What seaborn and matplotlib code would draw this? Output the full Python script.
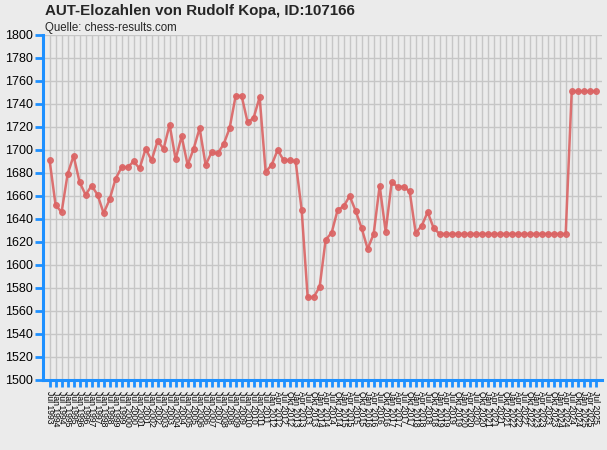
import matplotlib
matplotlib.use("Agg")
import matplotlib.pyplot as plt
import seaborn as sns
import pandas as pd

# ---- data ----
dates = [
    "Jul 1993", "Jan 1994", "Jul 1994", "Jan 1995", "Jul 1995", "Jan 1996", "Jul 1996",
    "Jan 1997", "Jul 1997", "Jan 1998", "Jul 1998", "Jan 1999", "Jul 1999", "Jan 2000",
    "Jul 2000", "Jan 2001", "Jul 2001", "Jan 2002", "Jul 2002", "Jan 2003", "Jul 2003",
    "Jan 2004", "Jul 2004", "Jan 2005", "Jul 2005", "Jan 2006", "Jul 2006", "Jan 2007",
    "Jul 2007", "Jan 2008", "Jul 2008", "Jan 2009", "Jul 2009", "Jan 2010", "Jul 2010",
    "Jan 2011", "Jul 2011", "Jan 2012",
    "Apr 2012", "Jul 2012", "Okt 2012",
    "Jan 2013", "Apr 2013", "Jul 2013", "Okt 2013",
    "Jan 2014", "Apr 2014", "Jul 2014", "Okt 2014",
    "Jan 2015", "Apr 2015", "Jul 2015", "Okt 2015",
    "Jan 2016", "Apr 2016", "Jul 2016", "Okt 2016",
    "Jan 2017", "Apr 2017", "Jul 2017", "Okt 2017",
    "Jan 2018", "Apr 2018", "Jul 2018", "Okt 2018",
    "Jan 2019", "Apr 2019", "Jul 2019", "Okt 2019",
    "Jan 2020", "Apr 2020", "Jul 2020", "Okt 2020",
    "Jan 2021", "Apr 2021", "Jul 2021", "Okt 2021",
    "Jan 2022", "Apr 2022", "Jul 2022", "Okt 2022",
    "Jan 2023", "Apr 2023", "Jul 2023", "Okt 2023",
    "Jan 2024", "Apr 2024", "Jul 2024", "Okt 2024",
    "Jan 2025", "Apr 2025", "Jul 2025",
]
elo = [
    1691, 1652, 1646, 1679, 1695, 1672, 1661, 1669, 1661, 1645, 1657, 1675, 1685, 1685,
    1690, 1684, 1701, 1691, 1708, 1701, 1722, 1692, 1712, 1687, 1701, 1719, 1687, 1698,
    1697, 1705, 1719, 1747,
    1747, 1724, 1728, 1746, 1681, 1687, 1700, 1691, 1691, 1690, 1648, 1572, 1572, 1581,
    1622, 1628, 1648, 1651, 1660, 1647, 1632, 1614, 1627, 1669, 1629, 1672, 1668, 1668,
    1664, 1628, 1634, 1646,
    1632, 1627, 1627, 1627, 1627, 1627, 1627, 1627, 1627, 1627, 1627, 1627, 1627, 1627,
    1627, 1627, 1627, 1627, 1627, 1627, 1627, 1627, 1627,
    1751, 1751, 1751, 1751, 1751,
]
y_ticks = [1500, 1520, 1540, 1560, 1580, 1600, 1620, 1640, 1660, 1680,
           1700, 1720, 1740, 1760, 1780, 1800]

title = "AUT-Elozahlen von Rudolf Kopa, ID:107166"
subtitle = "Quelle: chess-results.com"

df = pd.DataFrame({"pos": list(range(len(dates))), "date": dates, "elo": elo})

# ---- style ----
sns.set_theme(style="whitegrid")
plt.rcParams["font.family"] = ["Liberation Sans", "DejaVu Sans"]
bg = "#ebebeb"
blue = "#1e90ff"
line_col = "#db6464"

fig = plt.figure(figsize=(6.07, 4.5), dpi=100, facecolor=bg)
ax = fig.add_axes([43 / 607, 70 / 450, 559 / 607, 345 / 450])
ax.set_facecolor(bg)

sns.lineplot(data=df, x="pos", y="elo", ax=ax, color=line_col, linewidth=1.8,
             marker="o", markersize=4.2, markeredgecolor=line_col, alpha=0.9)

ax.set_xlim(-1.1, len(dates) - 1 + 1.05)
ax.set_ylim(1500, 1800)
ax.set_xticks(df["pos"])
ax.set_xticklabels(dates, rotation=270, fontsize=6.2, va="top", ha="center")
ax.set_yticks(y_ticks)
ax.set_yticklabels([str(v) for v in y_ticks], fontsize=9)
ax.set_xlabel("")
ax.set_ylabel("")

ax.grid(True, color="#c6c6c6", linewidth=1.0)
for s in ["top", "right"]:
    ax.spines[s].set_visible(False)
for s in ["left", "bottom"]:
    ax.spines[s].set_visible(True)
    ax.spines[s].set_color(blue)
    ax.spines[s].set_linewidth(2.2)
ax.tick_params(axis="y", length=6, width=2, color=blue, pad=1, labelcolor="black", left=True)
ax.tick_params(axis="x", length=5, width=2, color=blue, pad=3, labelcolor="black", bottom=True)

fig.text(45 / 607, 1 - 15 / 450, title, fontsize=10.9, fontweight="bold",
         ha="left", va="baseline")
fig.text(45 / 607, 1 - 31 / 450, subtitle, fontsize=8.3, ha="left", va="baseline")

fig.savefig("out.png", dpi=100, facecolor=bg)
